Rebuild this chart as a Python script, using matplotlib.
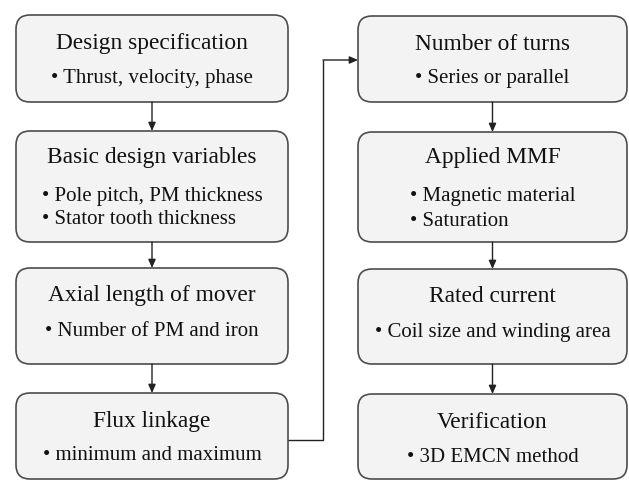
import matplotlib
matplotlib.use("Agg")
import matplotlib.pyplot as plt
from matplotlib.patches import FancyBboxPatch

left_titles = ["Design specification", "Basic design variables", "Axial length of mover", "Flux linkage"]
left_bullets = [["Thrust, velocity, phase"],
                ["Pole pitch, PM thickness", "Stator tooth thickness"],
                ["Number of PM and iron"],
                ["minimum and maximum"]]
right_titles = ["Number of turns", "Applied MMF", "Rated current", "Verification"]
right_bullets = [["Series or parallel"],
                 ["Magnetic material", "Saturation"],
                 ["Coil size and winding area"],
                 ["3D EMCN method"]]

W, H = 629, 482
fig = plt.figure(figsize=(W / 100, H / 100), dpi=100)
ax = fig.add_axes([0, 0, 1, 1])
ax.set_xlim(0, W)
ax.set_ylim(H, 0)
ax.axis("off")
renderer = fig.canvas.get_renderer()

font = "Liberation Serif"
edge = "#4d4d4d"
fill = "#f3f3f3"
tfs = 16.8
bfs = 15.0

left_x = (16, 288)
right_x = (358, 627)
tops = [15, 131, 268, 393]
bottoms = [102, 242, 364, 479]


def draw_box(x0, x1, y0, y1, title, bullets):
    p = FancyBboxPatch((x0, y0), x1 - x0, y1 - y0,
                       boxstyle="round,pad=0,rounding_size=14",
                       fc=fill, ec=edge, lw=1.2)
    ax.add_patch(p)
    cx = (x0 + x1) / 2
    if len(bullets) == 1:
        ax.text(cx, y0 + 28, title, ha="center", va="center", family=font, fontsize=tfs, color="#111")
        ax.text(cx, y0 + 63, "\u2022 " + bullets[0], ha="center", va="center", family=font, fontsize=bfs, color="#111")
    else:
        ax.text(cx, y0 + 26, title, ha="center", va="center", family=font, fontsize=tfs, color="#111")
        ts = [ax.text(cx, y0 + 65 + 24 * k, "\u2022 " + b, ha="left", va="center", family=font,
                      fontsize=bfs, color="#111") for k, b in enumerate(bullets)]
        maxw = max(t.get_window_extent(renderer).width for t in ts)
        for t in ts:
            t.set_x(cx - maxw / 2)


for i in range(4):
    draw_box(left_x[0], left_x[1], tops[i], bottoms[i], left_titles[i], left_bullets[i])
    draw_box(right_x[0], right_x[1], tops[i] + 1, bottoms[i], right_titles[i], right_bullets[i])

arrowprops = dict(arrowstyle="-|>,head_length=0.5,head_width=0.22", color="#222", lw=1.0,
                  shrinkA=0, shrinkB=0)
lcx = sum(left_x) / 2
rcx = sum(right_x) / 2
for i in range(3):
    ax.annotate("", xy=(lcx, tops[i + 1]), xytext=(lcx, bottoms[i]), arrowprops=arrowprops)
    ax.annotate("", xy=(rcx, tops[i + 1] + 1), xytext=(rcx, bottoms[i]), arrowprops=arrowprops)

# connector from Flux linkage to Number of turns
yl, xm, yt = 440, 323, 60
ax.plot([left_x[1], xm, xm], [yl, yl, yt], color="#222", lw=1.0, solid_capstyle="butt")
ax.annotate("", xy=(right_x[0], yt), xytext=(xm, yt), arrowprops=arrowprops)

fig.savefig("out.png", dpi=100, facecolor="white")
